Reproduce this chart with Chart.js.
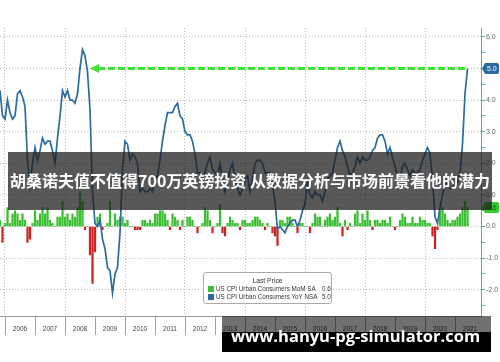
<!DOCTYPE html>
<html>
<head>
<meta charset="utf-8">
<script src="https://cdn.jsdelivr.net/npm/chart.js@4/dist/chart.umd.min.js"></script>
<style>
  html, body { margin:0; padding:0; background:#fff; }
  #wrap { position:relative; width:500px; height:362px; overflow:hidden; }
  #chart { position:absolute; left:0; top:0; }
  .legend { position:absolute; left:203px; top:272px; width:127px; height:30px; border:1px solid #a9a9a9; border-radius:3px; background:#fff; font:6.3px "Liberation Sans", Arial, sans-serif; color:#333; }
  .legend .title { position:absolute; left:0; right:0; top:4px; text-align:center; line-height:8px; font-size:6.8px; }
  .legend .row { position:absolute; left:4px; right:0; height:8px; line-height:8px; white-space:nowrap; }
  .legend .sw { position:absolute; left:0; top:1px; width:6px; height:6px; }
  .legend .name { position:absolute; left:8px; }
  .legend .val { position:absolute; left:114px; }
  .banner { position:absolute; left:8px; top:152px; width:482px; height:56px; padding:0 0 2px 2px; background:rgba(30,30,30,0.74); color:#fff; font:bold 16px "Noto Sans CJK SC", sans-serif; line-height:56px; white-space:nowrap; }
  .band { position:absolute; left:222px; top:316px; width:269px; height:16px; background:rgba(0,0,0,0.56); }
  .foot { position:absolute; left:222px; top:332px; width:269px; height:20px; background:#000; }
  .url { position:absolute; left:231px; top:326px; font:bold 16.5px "Open Sans", sans-serif; line-height:20px; color:#fff; white-space:nowrap; }
</style>
</head>
<body>
<div id="wrap">
  <canvas id="chart" width="500" height="362"></canvas>
  <div class="legend">
    <div class="title">Last Price</div>
    <div class="row" style="top:12px"><span class="sw" style="background:#3cbf34"></span><span class="name">US CPI Urban Consumers MoM SA</span><span class="val">0.6</span></div>
    <div class="row" style="top:20px"><span class="sw" style="background:#2d6aa0"></span><span class="name">US CPI Urban Consumers YoY NSA</span><span class="val">5.0</span></div>
  </div>
  <div class="banner">胡桑诺夫值不值得700万英镑投资 从数据分析与市场前景看他的潜力</div>
  <div class="band"></div>
  <div class="foot"></div>
  <div class="url">www.hanyu-pg-simulator.com</div>
</div>
<script>
// first month in the series is Oct 2005; x = months since Jan 2006 (month end)
var firstMonth = { year: 2005, month: 10 };
var years = ['2006','2007','2008','2009','2010','2011','2012','2013','2014','2015','2016','2017','2018','2019','2020','2021'];

// US CPI Urban Consumers YoY NSA
var yoy = [
  4.3, 3.5, 3.4,
  4.0, 3.6, 3.4, 3.5, 4.2, 4.3, 4.1, 3.8, 2.1, 1.3, 2.0, 2.5,
  2.1, 2.4, 2.8, 2.6, 2.7, 2.7, 2.4, 2.0, 2.8, 3.5, 4.3, 4.1,
  4.3, 4.0, 4.0, 3.9, 4.2, 5.0, 5.6, 5.4, 4.9, 3.7, 1.1, 0.1,
  0.0, 0.2, -0.4, -0.7, -1.3, -1.4, -2.1, -1.5, -1.3, -0.2, 1.8, 2.7,
  2.6, 2.1, 2.3, 2.2, 2.0, 1.1, 1.2, 1.1, 1.1, 1.2, 1.1, 1.5,
  1.6, 2.1, 2.7, 3.2, 3.6, 3.6, 3.6, 3.8, 3.9, 3.5, 3.4, 3.0,
  2.9, 2.9, 2.7, 2.3, 1.7, 1.7, 1.4, 1.7, 2.0, 2.2, 1.8, 1.7,
  1.6, 2.0, 1.5, 1.1, 1.4, 1.8, 2.0, 1.5, 1.2, 1.0, 1.2, 1.5,
  1.6, 1.1, 1.5, 2.0, 2.1, 2.1, 2.0, 1.7, 1.7, 1.7, 1.3, 0.8,
  -0.1, 0.0, -0.1, -0.2, 0.0, 0.1, 0.2, 0.2, 0.0, 0.2, 0.5, 0.7,
  1.4, 1.0, 0.9, 1.1, 1.0, 1.0, 0.8, 1.1, 1.5, 1.6, 1.7, 2.1,
  2.5, 2.7, 2.4, 2.2, 1.9, 1.6, 1.7, 1.9, 2.2, 2.0, 2.2, 2.1,
  2.1, 2.2, 2.4, 2.5, 2.8, 2.9, 2.9, 2.7, 2.3, 2.5, 2.2, 1.9,
  1.6, 1.5, 1.9, 2.0, 1.8, 1.6, 1.8, 1.7, 1.7, 1.8, 2.1, 2.3,
  2.5, 2.3, 1.5, 0.3, 0.1, 0.6, 1.0, 1.3, 1.4, 1.2, 1.2, 1.4,
  1.4, 1.7, 2.6, 4.2, 5.0
];

// US CPI Urban Consumers MoM SA
var mom = [
  0.2, -0.5, 0.1,
  0.6, 0.1, 0.4, 0.5, 0.4, 0.2, 0.4, 0.2, -0.5, -0.4, 0.1, 0.5,
  0.2, 0.4, 0.6, 0.4, 0.6, 0.2, 0.1, 0.0, 0.3, 0.3, 0.8, 0.3,
  0.4, 0.2, 0.4, 0.3, 0.6, 1.1, 0.8, -0.1, 0.0, -0.9, -1.8, -0.8,
  0.3, 0.4, -0.1, 0.0, 0.1, 0.8, 0.0, 0.4, 0.2, 0.3, 0.3, 0.1,
  0.2, 0.0, 0.0, -0.1, -0.1, -0.1, 0.2, 0.2, 0.1, 0.2, 0.1, 0.4,
  0.4, 0.5, 0.5, 0.4, 0.2, -0.1, 0.4, 0.3, 0.2, -0.1, 0.2, 0.0,
  0.3, 0.3, 0.2, 0.0, -0.2, 0.0, 0.1, 0.6, 0.5, 0.2, -0.2, 0.0,
  0.1, 0.7, -0.2, -0.3, 0.1, 0.3, 0.2, 0.1, 0.1, -0.1, 0.2, 0.2,
  0.1, 0.1, 0.2, 0.3, 0.3, 0.2, 0.1, -0.1, 0.1, 0.0, -0.2, -0.3,
  -0.6, 0.2, 0.2, 0.1, 0.3, 0.3, 0.1, 0.0, -0.2, 0.1, 0.1, 0.0,
  0.0, -0.2, 0.1, 0.4, 0.3, 0.3, 0.0, 0.2, 0.3, 0.4, 0.2, 0.3,
  0.6, 0.1, -0.3, 0.2, -0.1, 0.1, 0.0, 0.4, 0.5, 0.1, 0.4, 0.2,
  0.5, 0.2, -0.1, 0.2, 0.2, 0.1, 0.2, 0.2, 0.1, 0.3, 0.0, -0.1,
  0.0, 0.2, 0.4, 0.3, 0.1, 0.1, 0.3, 0.1, 0.1, 0.3, 0.2, 0.2,
  0.1, 0.1, -0.3, -0.7, -0.1, 0.5, 0.6, 0.4, 0.2, 0.1, 0.2, 0.2,
  0.3, 0.4, 0.6, 0.8, 0.6
];

// arrow annotation: from Nov 2008 to the last month, at the latest YoY level
var arrowFrom = 34;
var arrowValue = 5.0;

var startX = (firstMonth.year - 2006) * 12 + firstMonth.month;
function toPoints(arr){
    return arr.map(function(v, i){ return { x: startX + i, y: v }; });
}
var lastX = startX + yoy.length - 1;
var lastYoy = yoy[yoy.length - 1];
var lastMom = mom[mom.length - 1];

var GREEN = '#3cbf34', RED = '#cc2424', BLUE = '#2d6aa0';

function valueTag(ctx, y, fill, textColor, label, left){
    var h = 11, x0 = left + 1, x1 = left + 18;
    ctx.save();
    ctx.fillStyle = fill;
    ctx.beginPath();
    ctx.moveTo(x0, y);
    ctx.lineTo(x0 + 3, y - h/2);
    ctx.lineTo(x1 - 2, y - h/2);
    ctx.quadraticCurveTo(x1, y - h/2, x1, y - h/2 + 2);
    ctx.lineTo(x1, y + h/2 - 2);
    ctx.quadraticCurveTo(x1, y + h/2, x1 - 2, y + h/2);
    ctx.lineTo(x0 + 3, y + h/2);
    ctx.closePath();
    ctx.fill();
    ctx.fillStyle = textColor;
    ctx.font = '7px "Liberation Sans", Arial, sans-serif';
    ctx.textAlign = 'left';
    ctx.textBaseline = 'middle';
    ctx.fillText(label, x0 + 5, y + 0.5);
    ctx.restore();
}

var overlay = {
    id: 'overlay',
    afterDatasetsDraw: function(chart){
        var ctx = chart.ctx, xs = chart.scales.x, ys = chart.scales.y;
        var y = ys.getPixelForValue(arrowValue);
        var tip = xs.getPixelForValue(arrowFrom);
        var end = xs.getPixelForValue(lastX);
        ctx.save();
        ctx.strokeStyle = '#3fe336';
        ctx.fillStyle = '#3fe336';
        ctx.lineWidth = 3;
        ctx.setLineDash([7, 3]);
        ctx.beginPath();
        ctx.moveTo(tip + 8, y);
        ctx.lineTo(end, y);
        ctx.stroke();
        ctx.setLineDash([]);
        ctx.beginPath();
        ctx.moveTo(tip, y);
        ctx.lineTo(tip + 9, y - 4.5);
        ctx.lineTo(tip + 9, y + 4.5);
        ctx.closePath();
        ctx.fill();
        ctx.restore();
    },
    afterDraw: function(chart){
        var ctx = chart.ctx, xs = chart.scales.x, ys = chart.scales.y, a = chart.chartArea;
        // year band under the plot
        ctx.save();
        ctx.strokeStyle = '#a0a0a0';
        ctx.lineWidth = 1;
        ctx.fillStyle = '#444';
        ctx.font = '6.5px "Liberation Sans", Arial, sans-serif';
        ctx.textAlign = 'center';
        ctx.textBaseline = 'middle';
        years.forEach(function(label, i){
            var bx = Math.round(xs.getPixelForValue(i * 12)) + 0.5;
            ctx.beginPath();
            ctx.moveTo(bx, a.bottom);
            ctx.lineTo(bx, a.bottom + 19);
            ctx.stroke();
            ctx.fillText(label, xs.getPixelForValue(i * 12 + 6), a.bottom + 13);
        });
        ctx.restore();
        valueTag(ctx, ys.getPixelForValue(lastYoy), BLUE, '#fff', lastYoy.toFixed(1), a.right);
        valueTag(ctx, ys.getPixelForValue(lastMom), '#33cc2e', '#1d4f1d', lastMom.toFixed(1), a.right);
    }
};

new Chart(document.getElementById('chart'), {
    type: 'bar',
    data: {
        datasets: [{
            type: 'line',
            label: 'US CPI Urban Consumers YoY NSA',
            data: toPoints(yoy),
            borderColor: BLUE,
            borderWidth: 1.7,
            pointRadius: 0,
            tension: 0,
            order: 0
        }, {
            label: 'US CPI Urban Consumers MoM SA',
            data: toPoints(mom),
            backgroundColor: function(c){ return c.parsed && c.parsed.y < 0 ? RED : GREEN; },
            barThickness: 1.6,
            order: 1
        }]
    },
    options: {
        responsive: false,
        animation: false,
        devicePixelRatio: 1,
        layout: { padding: { top: 28, bottom: 46, left: 0, right: 0 } },
        plugins: { legend: { display: false }, tooltip: { enabled: false } },
        scales: {
            x: {
                type: 'linear',
                min: -2,
                max: 190.4,
                offset: false,
                afterBuildTicks: function(s){
                    s.ticks = [];
                    for (var v = 0; v <= 168; v += 24) s.ticks.push({ value: v });
                },
                afterFit: function(s){ s.height = 0; },
                ticks: { display: false },
                grid: { offset: false, color: '#b8b8b8', drawTicks: false },
                border: { color: '#9a9a9a', dash: [1, 2] }
            },
            y: {
                position: 'right',
                min: -2.83,
                max: 6.28,
                afterBuildTicks: function(s){
                    s.ticks = [];
                    for (var k = -5; k <= 12; k++) s.ticks.push({ value: k / 2 });
                },
                afterFit: function(s){ s.width = 19; },
                ticks: {
                    padding: 1,
                    color: '#666',
                    font: { family: 'Liberation Sans', size: 7 },
                    callback: function(v){ return Number.isInteger(v) ? v.toFixed(1) : ''; }
                },
                grid: {
                    color: function(c){ return c.tick && Number.isInteger(c.tick.value) ? '#b8b8b8' : 'rgba(0,0,0,0)'; },
                    tickColor: '#5cb85c',
                    tickLength: 4
                },
                border: { color: '#5cb85c', dash: [1, 2] }
            }
        }
    },
    plugins: [overlay]
});
</script>
</body>
</html>
